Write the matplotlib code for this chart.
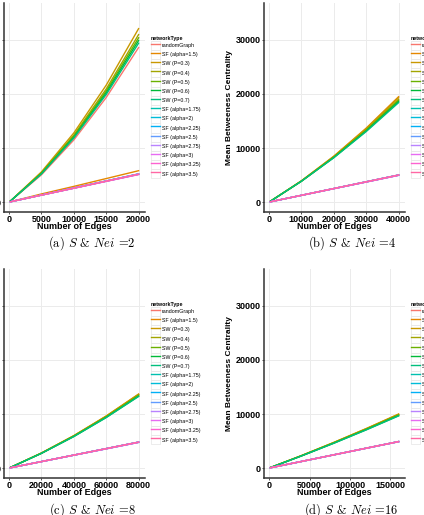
import matplotlib
matplotlib.use("Agg")
import matplotlib.pyplot as plt
from matplotlib.legend_handler import HandlerLine2D
from matplotlib.patches import Rectangle

plt.rcParams['font.family'] = 'Liberation Sans'
plt.rcParams['mathtext.fontset'] = 'cm'

network_types = ['randomGraph', 'SF (alpha=1.5)', 'SW (P=0.3)', 'SW (P=0.4)', 'SW (P=0.5)',
                 'SW (P=0.6)', 'SW (P=0.7)', 'SF (alpha=1.75)', 'SF (alpha=2)', 'SF (alpha=2.25)',
                 'SF (alpha=2.5)', 'SF (alpha=2.75)', 'SF (alpha=3)', 'SF (alpha=3.25)', 'SF (alpha=3.5)']
colors = ['#F8766D', '#E58700', '#C99800', '#A3A500', '#6BB100', '#00BA38', '#00BF7D', '#00C0AF',
          '#00BCD8', '#00B0F6', '#619CFF', '#B983FF', '#E76BF3', '#FD61D1', '#FF67A4']

# (a) Nei = 2
edges_a = [200, 5000, 10000, 15000, 20000]
bc_a = [
    [170, 5050, 11500, 19350, 28600],
    [60, 1500, 2900, 4350, 5800],
    [190, 5590, 12800, 21640, 32100],
    [185, 5425, 12400, 20925, 31000],
    [185, 5350, 12200, 20550, 30400],
    [180, 5260, 12000, 20210, 29900],
    [180, 5210, 11850, 19910, 29400],
    [50, 1300, 2600, 3900, 5200],
    [50, 1290, 2580, 3870, 5150],
    [50, 1300, 2600, 3900, 5200],
    [50, 1290, 2580, 3870, 5150],
    [50, 1280, 2550, 3830, 5100],
    [50, 1300, 2600, 3900, 5200],
    [50, 1280, 2550, 3830, 5100],
    [50, 1290, 2580, 3870, 5150],
]

# (b) Nei = 4
edges_b = [400, 10000, 20000, 30000, 40000]
bc_b = [
    [50, 1250, 2500, 3750, 5000],
    [145, 3940, 8500, 13690, 19500],
    [145, 3925, 8450, 13575, 19300],
    [145, 3890, 8350, 13390, 19000],
    [145, 3875, 8300, 13275, 18800],
    [145, 3860, 8250, 13160, 18600],
    [145, 3860, 8200, 13050, 18400],
    [50, 1250, 2500, 3750, 5000],
    [50, 1250, 2500, 3750, 5000],
    [50, 1240, 2480, 3710, 4950],
    [50, 1250, 2500, 3750, 5000],
    [50, 1240, 2480, 3710, 4950],
    [50, 1250, 2500, 3750, 5000],
    [50, 1240, 2480, 3710, 4950],
    [50, 1250, 2500, 3750, 5000],
]

# (c) Nei = 8
edges_c = [800, 20000, 40000, 60000, 80000]
bc_c = [
    [50, 1200, 2400, 3600, 4800],
    [105, 2790, 6000, 9640, 13700],
    [105, 2780, 5980, 9605, 13650],
    [105, 2770, 5950, 9545, 13550],
    [100, 2745, 5900, 9470, 13450],
    [100, 2725, 5850, 9375, 13300],
    [100, 2715, 5830, 9345, 13250],
    [50, 1200, 2400, 3600, 4800],
    [50, 1200, 2400, 3600, 4800],
    [50, 1190, 2380, 3560, 4750],
    [50, 1200, 2400, 3600, 4800],
    [50, 1190, 2380, 3560, 4750],
    [50, 1200, 2400, 3600, 4800],
    [50, 1190, 2380, 3560, 4750],
    [50, 1200, 2400, 3600, 4800],
]

# (d) Nei = 16
edges_d = [1600, 40000, 80000, 120000, 160000]
bc_d = [
    [50, 1220, 2450, 3680, 4900],
    [90, 2310, 4750, 7310, 10000],
    [90, 2300, 4730, 7280, 9950],
    [90, 2290, 4700, 7230, 9880],
    [90, 2270, 4660, 7170, 9800],
    [85, 2245, 4610, 7095, 9700],
    [85, 2235, 4590, 7060, 9650],
    [50, 1220, 2450, 3680, 4900],
    [50, 1220, 2450, 3680, 4900],
    [50, 1220, 2440, 3660, 4880],
    [50, 1220, 2450, 3680, 4900],
    [50, 1220, 2440, 3660, 4880],
    [50, 1220, 2450, 3680, 4900],
    [50, 1220, 2440, 3660, 4880],
    [50, 1220, 2450, 3680, 4900],
]

x_ticks_a = [0, 5000, 10000, 15000, 20000]
x_ticks_b = [0, 10000, 20000, 30000, 40000]
x_ticks_c = [0, 20000, 40000, 60000, 80000]
x_ticks_d = [0, 50000, 100000, 150000]
y_ticks = [0, 10000, 20000, 30000]
captions = ['(a) $S$ & $Nei$ =2', '(b) $S$ & $Nei$ =4',
            '(c) $S$ & $Nei$ =8', '(d) $S$ & $Nei$ =16']


class KeyBox(HandlerLine2D):
    # ggplot-like legend key: line on a light bordered box
    def create_artists(self, legend, orig_handle, xdescent, ydescent, width, height, fontsize, trans):
        arts = super().create_artists(legend, orig_handle, xdescent, ydescent, width, height, fontsize, trans)
        box = Rectangle((-xdescent, -ydescent), width, height, facecolor='white',
                        edgecolor='#E4E4E4', lw=0.5, transform=trans)
        return [box] + list(arts)


W, H = 424, 515
fig = plt.figure(figsize=(W / 100, H / 100), dpi=100)
fig.patch.set_facecolor('white')

# panel boxes in pixels: left, right, top, bottom
boxes = [(4, 145, 2.7, 211.5), (264, 405, 2.7, 211.5),
         (4, 145, 268.7, 477.5), (264, 405, 268.7, 477.5)]
panels = [(edges_a, bc_a, x_ticks_a), (edges_b, bc_b, x_ticks_b),
          (edges_c, bc_c, x_ticks_c), (edges_d, bc_d, x_ticks_d)]
cap_pos = [(92, 243), (352, 243), (92, 510), (351, 510)]

for (l, r, t, b), (xs, ys, xt), cap, (cx, cy) in zip(boxes, panels, captions, cap_pos):
    ax = fig.add_axes([l / W, 1 - b / H, (r - l) / W, (b - t) / H])
    for name, col, vals in zip(network_types, colors, ys):
        ax.plot(xs, vals, color=col, lw=1.0, label=name)
    pad = 0.05 * (xs[-1] - xs[0])
    ax.set_xlim(xs[0] - pad, xs[-1] + pad)
    ax.set_ylim(-1750, 36900)
    ax.set_xticks(xt)
    ax.set_yticks(y_ticks)
    ax.grid(True, color='#EBEBEB', lw=0.7)
    ax.set_axisbelow(True)
    for s in ['top', 'right']:
        ax.spines[s].set_visible(False)
    for s in ['left', 'bottom']:
        ax.spines[s].set_color('#333333')
        ax.spines[s].set_linewidth(1.1)
    ax.tick_params(length=1.5, width=0.6, color='#333333', pad=0.8, labelsize=6.5)
    for lab in ax.get_xticklabels() + ax.get_yticklabels():
        lab.set_fontweight('bold')
    ax.set_xlabel('Number of Edges', fontsize=6.5, fontweight='bold', labelpad=-1)
    ax.set_ylabel('Mean Betweeness Centrality', fontsize=6, fontweight='bold', labelpad=2)
    leg = ax.legend(loc='center left', bbox_to_anchor=((r + 6) / W, 1 - (t + b) / 2 / H),
                    bbox_transform=fig.transFigure, frameon=False, fontsize=3.8,
                    title='networkType', title_fontproperties={'weight': 'bold', 'size': 3.8},
                    handlelength=1.7, handleheight=2.3, handletextpad=0.4, labelspacing=0,
                    borderpad=0, borderaxespad=0, alignment='left',
                    handler_map={matplotlib.lines.Line2D: KeyBox()})
    for ln in leg.get_lines():
        ln.set_linewidth(0.8)
    fig.text(cx / W, 1 - cy / H, cap, fontsize=9, ha='center', va='center', family='cmr10')

fig.savefig('out.png', dpi=100)
